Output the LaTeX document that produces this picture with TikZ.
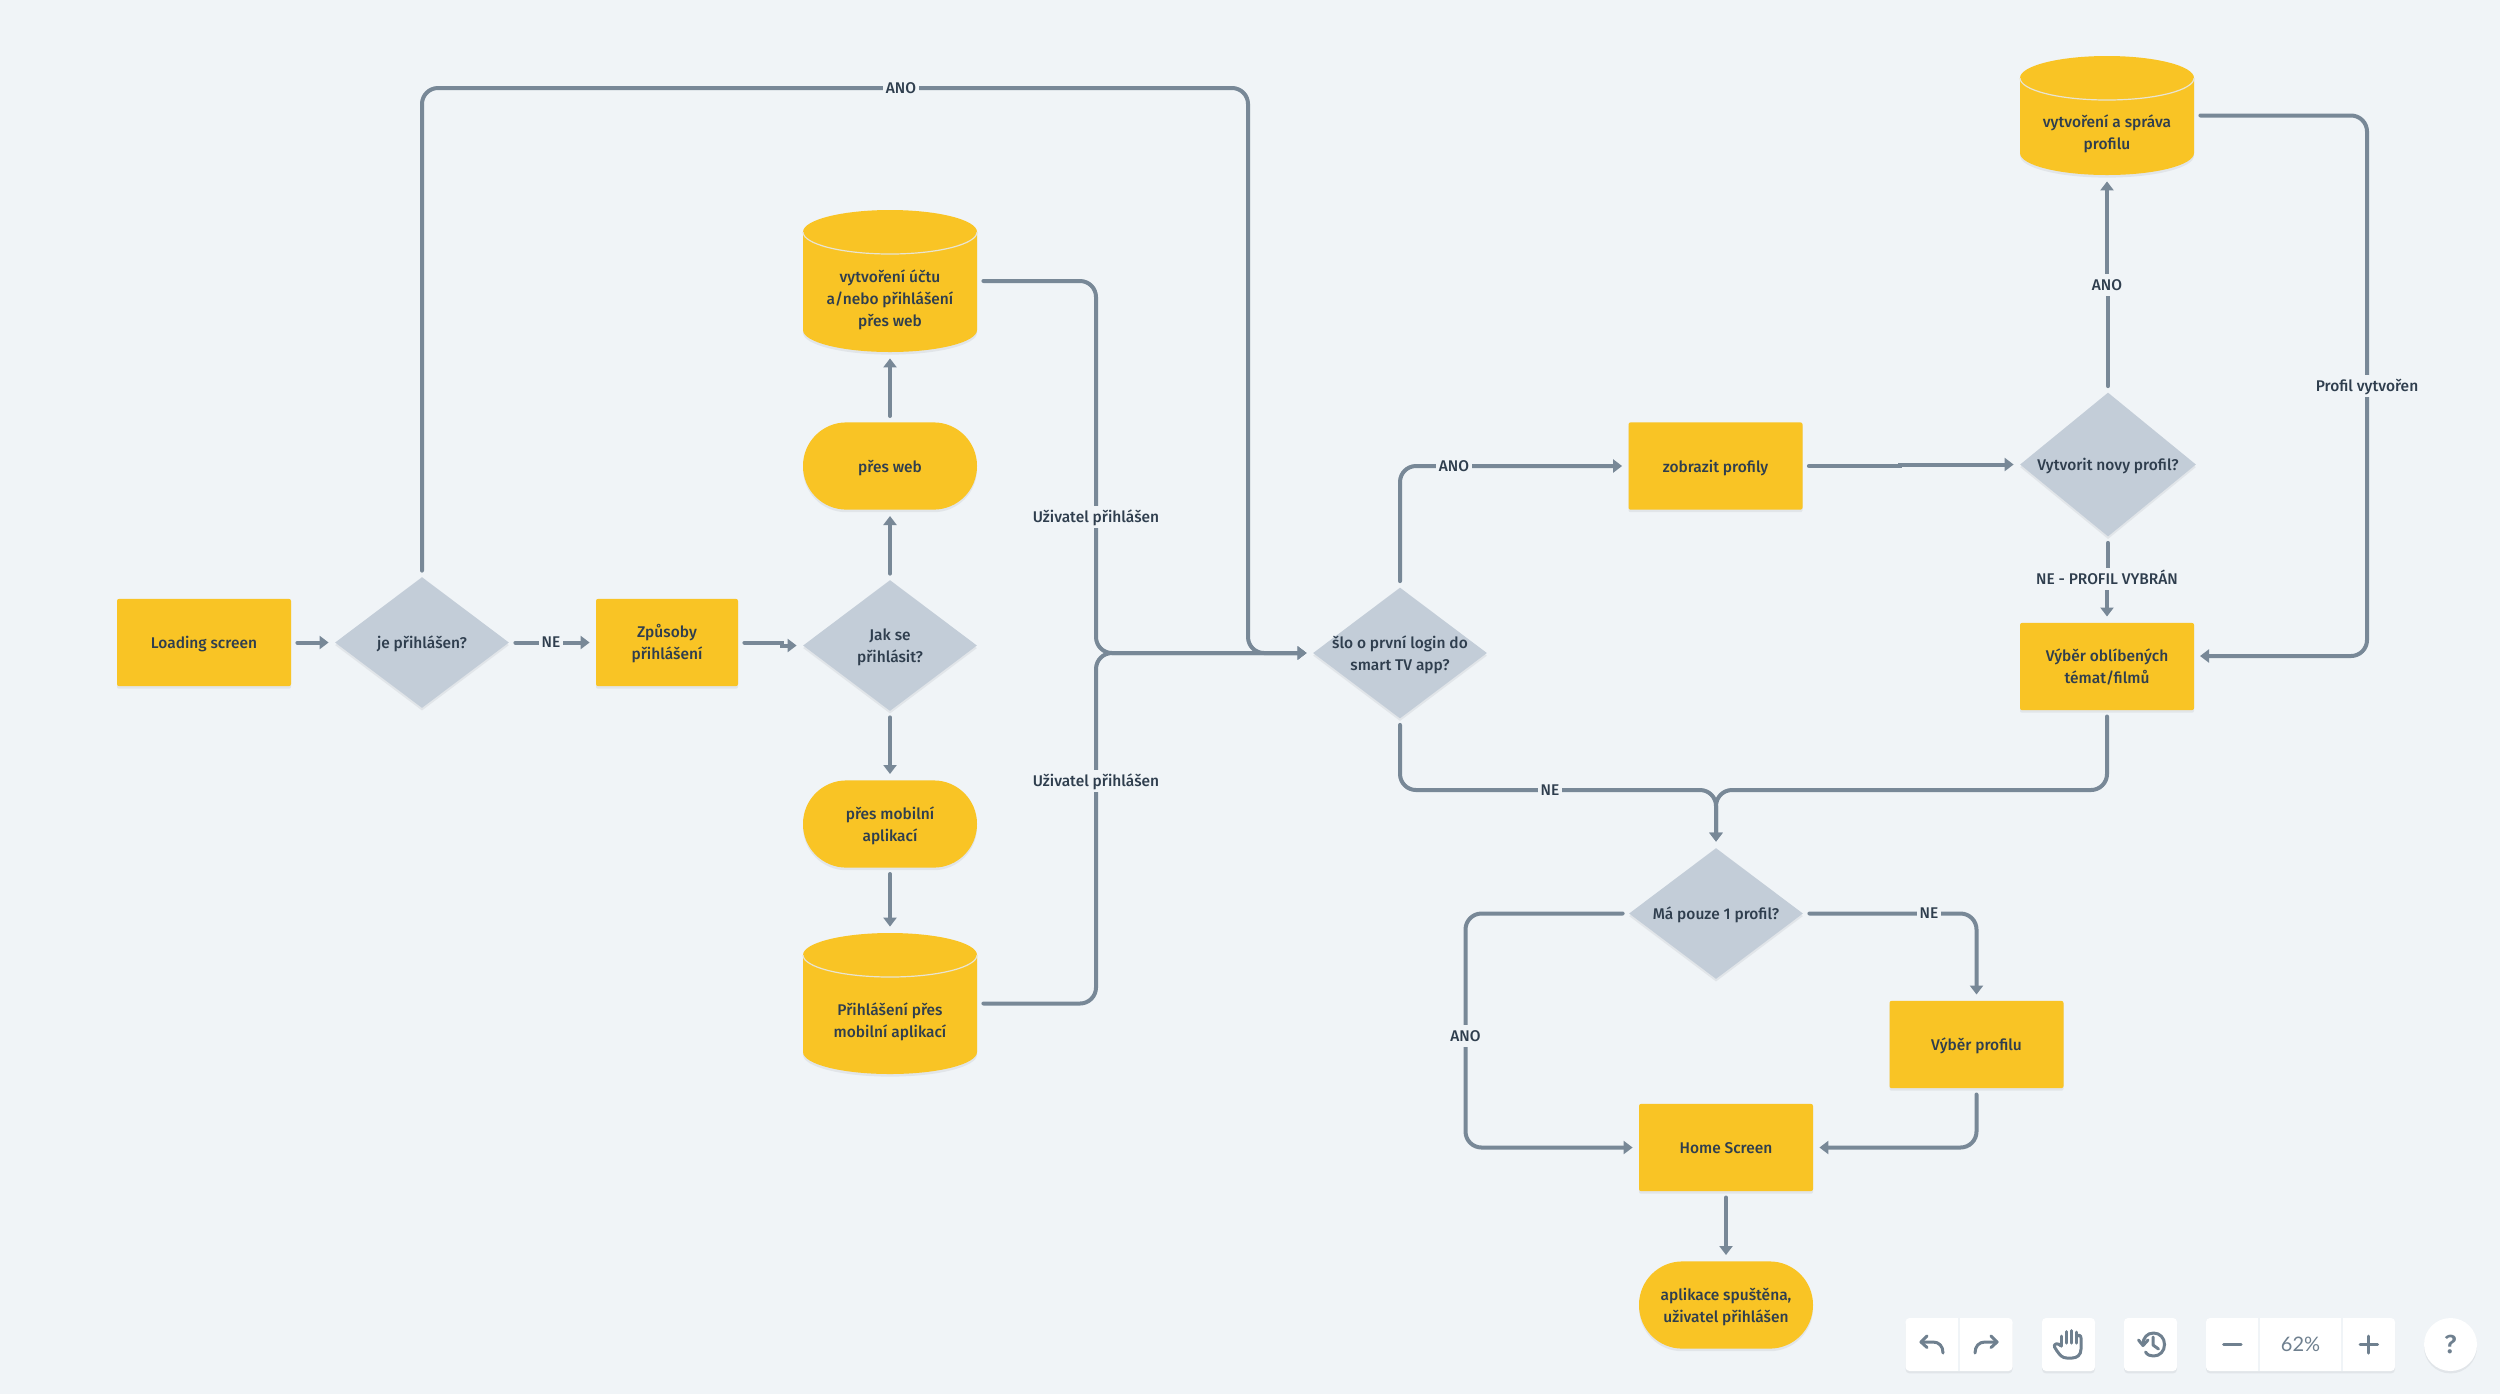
\documentclass[tikz,border=0pt]{standalone}
\usepackage{fontspec}
\usepackage{xcolor}
\setmainfont{Fira Sans Medium}
\newfontfamily\toolfont{Lato}
\usetikzlibrary{shapes.geometric,arrows.meta,shadows}
\definecolor{bgc}{HTML}{F0F4F7}
\definecolor{yelc}{HTML}{F9C425}
\definecolor{diac}{HTML}{C3CDD8}
\definecolor{linec}{HTML}{788897}
\definecolor{txtc}{HTML}{2F3E4E}
\definecolor{shadc}{HTML}{E1E5E9}
\definecolor{rimc}{HTML}{E8E4D2}
\definecolor{icoc}{HTML}{6F808F}
\newcommand{\tx}[2][-2.8pt]{\makebox[0pt][c]{\smash{\raisebox{#1}{\begin{tabular}{@{}c@{}}#2\end{tabular}}}}}
\tikzset{
  softshadow/.style={drop shadow={shadow xshift=0pt,shadow yshift=-1.3pt,fill=shadc,opacity=1}},
  box/.style={rectangle,rounded corners=1pt,fill=yelc,softshadow,inner sep=0pt,minimum width=87pt,minimum height=43.6pt,text=txtc},
  pill/.style={box,rounded corners=21.7pt},
  dia/.style={diamond,fill=diac,softshadow,inner sep=0pt,text=txtc},
  cylbox/.style={rectangle,inner sep=0pt,minimum width=87pt,text=txtc},
  lab/.style={rectangle,fill=bgc,text=txtc,inner xsep=1.5pt,inner ysep=2pt,text height=6.3pt,text depth=1pt},
  conn/.style={draw=linec,line width=2pt,rounded corners=8pt,line cap=round,shorten <=3pt},
  arr/.style={conn,-{Triangle[length=4.5pt,width=6.5pt]},shorten >=3pt},
  tool/.style={rectangle,rounded corners=2pt,fill=white,drop shadow={shadow xshift=0pt,shadow yshift=-1.2pt,fill=shadc,opacity=1},inner sep=0pt,minimum height=26.5pt,text=icoc},
  ico/.style={draw=icoc,line width=1.5pt,line cap=round,line join=round},
  div/.style={draw=bgc,line width=.8pt},
}
\newcommand{\cyl}[5]{%
  \fill[yelc,softshadow] ({#2-87},{#3+22}) arc[start angle=180,end angle=0,x radius=43.5pt,y radius=11pt]
    -- ({#2+87},{#4-22}) arc[start angle=0,end angle=-180,x radius=43.5pt,y radius=11pt] -- cycle;
  \draw[rimc,line width=.6pt] ({#2-87},{#3+22}) arc[start angle=180,end angle=360,x radius=43.5pt,y radius=11pt];
  \node[cylbox,minimum height={(#4-#3)*0.5}] (#1) at ({#2},{(#3+#4)/2}) {\tx[-11.3pt]{#5}};
}
\begin{document}
\begin{tikzpicture}[x=0.5pt,y=-0.5pt,font=\fontsize{7.75}{11}\selectfont]
\useasboundingbox (0,0) rectangle (2500,1394);
\fill[bgc] (0,0) rectangle (2500,1394);

% nodes
\node[box] (load) at (204,642.5) {\tx{Loading screen}};
\node[dia,minimum width=87pt,minimum height=65.5pt,aspect=1.33] (je) at (422,642.5) {\tx{je přihlášen?}};
\node[box,minimum width=71pt] (zp) at (667,642.5) {\tx{Způsoby\\přihlášení}};
\node[dia,minimum width=87pt,minimum height=65.5pt,aspect=1.33] (jak) at (890,645.5) {\tx{Jak se\\přihlásit?}};
\node[pill] (web) at (890,466) {\tx{přes web}};
\cyl{cweb}{890}{210}{352}{vytvoření účtu\\a/nebo přihlášení\\přes web}
\node[pill] (mob) at (890,824) {\tx{přes mobilní\\aplikací}};
\cyl{cmob}{890}{933}{1074}{Přihlášení přes\\mobilní aplikací}
\node[dia,minimum width=87pt,minimum height=65.5pt,aspect=1.32] (slo) at (1400,653) {\tx{šlo o první login do\\smart TV app?}};
\node[box] (zob) at (1715.5,466) {\tx{zobrazit profily}};
\node[dia,minimum width=88pt,minimum height=72pt,aspect=1.22] (vyt) at (2108,464.5) {\tx{Vytvorit novy profil?}};
\cyl{cprof}{2107}{56}{175}{vytvoření a správa\\profilu}
\node[box] (obl) at (2107,666.5) {\tx{Výběr oblíbených\\témat/filmů}};
\node[dia,minimum width=87pt,minimum height=65.5pt,aspect=1.33] (ma) at (1716,913.5) {\tx{Má pouze 1 profil?}};
\node[box] (vp) at (1976.5,1044.5) {\tx{Výběr profilu}};
\node[box] (home) at (1726,1147.5) {\tx{Home Screen}};
\node[pill] (app) at (1726,1305) {\tx{aplikace spuštěna,\\uživatel přihlášen}};

% routing points
\coordinate (tl) at (422,88);
\coordinate (tr) at (1248,88);
\coordinate (m2) at (1248,653);
\coordinate (bus) at (1096,653);
\coordinate (buswt) at (1096,281);
\coordinate (busmb) at (1096,1003.5);
\coordinate (sa) at (1400,466);
\coordinate (sb) at (1400,790);
\coordinate (junc) at (1716,790);
\coordinate (oblb) at (2107,790);
\coordinate (pr1) at (2367,115.5);
\coordinate (pr2) at (2367,656);
\coordinate (oblin) at (2194,656);
\coordinate (ml) at (1465.5,913.5);
\coordinate (mlb) at (1465.5,1147.5);
\coordinate (mr) at (1976.5,913.5);
\coordinate (vb) at (1976.5,1147.5);
\coordinate (j1) at (782,642.5);
\coordinate (j2) at (782,645.5);
\coordinate (z1) at (1900,466);
\coordinate (z2) at (1900,464.5);
\coordinate (a1) at (2108,285);
\coordinate (a2) at (2107,285);
\coordinate (n1) at (2108,579);
\coordinate (n2) at (2107,579);

% connectors
\draw[arr] (load.east) -- (je.west);
\draw[arr] (je.east) -- (zp.west);
\draw[arr,rounded corners=0pt] (zp.east) -- (j1) -- (j2) -- (jak.west);
\draw[arr] (jak.north) -- (web.south);
\draw[arr] (web.north) -- (cweb.south);
\draw[arr] (jak.south) -- (mob.north);
\draw[arr] (mob.south) -- (cmob.north);
\draw[arr] (je.north) -- (tl) -- (tr) -- (m2) -- (slo.west);
\draw[arr] (cweb.east) -- (buswt) -- (bus) -- (slo.west);
\draw[arr] (cmob.east) -- (busmb) -- (bus) -- (slo.west);
\draw[arr] (slo.north) -- (sa) -- (zob.west);
\draw[arr,rounded corners=0pt] (zob.east) -- (z1) -- (z2) -- (vyt.west);
\draw[arr,rounded corners=0pt] (vyt.north) -- (a1) -- (a2) -- (cprof.south);
\draw[arr,rounded corners=0pt] (vyt.south) -- (n1) -- (n2) -- (obl.north);
\draw[arr] (cprof.east) -- (pr1) -- (pr2) -- (oblin);
\draw[arr] (slo.south) -- (sb) -- (junc) -- (ma.north);
\draw[arr] (obl.south) -- (oblb) -- (junc) -- (ma.north);
\draw[arr] (ma.west) -- (ml) -- (mlb) -- (home.west);
\draw[arr] (ma.east) -- (mr) -- (vp.north);
\draw[arr] (vp.south) -- (vb) -- (home.east);
\draw[arr] (home.south) -- (app.north);

% connector labels
\node[lab] (l1) at (901,88) {ANO};
\node[lab] (l2) at (551,642.5) {NE};
\node[lab] (l3) at (1096,517) {Uživatel přihlášen};
\node[lab] (l4) at (1096,781) {Uživatel přihlášen};
\node[lab] (l5) at (1454,466) {ANO};
\node[lab] (l6) at (1550,790) {NE};
\node[lab] (l7) at (2107,285) {ANO};
\node[lab] (l8) at (2107,579) {NE - PROFIL VYBRÁN};
\node[lab] (l9) at (2367,386) {Profil vytvořen};
\node[lab] (l10) at (1929,913.5) {NE};
\node[lab] (l11) at (1465.5,1036) {ANO};

% toolbar
\node[tool,minimum width=53.5pt] (undo) at (1959,1344.5) {};
\draw[div] (undo.north) -- (undo.south);
\node[tool,minimum width=26.5pt] (hand) at (2068.5,1344.5) {};
\node[tool,minimum width=26.5pt] (hist) at (2150.5,1344.5) {};
\node[tool,minimum width=94.5pt] (zoomb) at (2300.5,1344.5) {\toolfont\fontsize{10}{11}\selectfont 62\%};
\coordinate (d1) at (2259,1318);
\coordinate (d2) at (2259,1371);
\coordinate (d3) at (2342,1318);
\coordinate (d4) at (2342,1371);
\draw[div] (d1) -- (d2);
\draw[div] (d3) -- (d4);
\node[tool,circle,minimum size=26.5pt] (help) at (2450.5,1344.5) {\fontsize{13}{13}\selectfont ?};
% undo, redo
\draw[ico] (1927,1336) -- (1921,1342) -- (1927,1347.5);
\draw[ico] (1921,1342) -- (1933,1342) .. controls (1939,1342) and (1943,1346) .. (1943,1353);
\draw[ico] (1991,1336) -- (1997,1342) -- (1991,1347.5);
\draw[ico] (1997,1342) -- (1985,1342) .. controls (1979,1342) and (1975,1346) .. (1975,1353);
% hand
\draw[ico] (2061,1346) -- (2061,1336) (2066.5,1343) -- (2066.5,1331.5) (2071.5,1343) -- (2071.5,1330.5) (2076.5,1343) -- (2076.5,1332);
\draw[ico] (2076.5,1337) .. controls (2078,1334) and (2081,1335) .. (2081,1338) -- (2081,1349) .. controls (2081,1355) and (2077,1358) .. (2072,1358) -- (2067,1358) .. controls (2062,1358) and (2060,1355) .. (2057,1351) -- (2054.5,1347) .. controls (2053,1344) and (2058,1342) .. (2061,1346);
% history
\draw[ico] (2143,1344) .. controls (2143,1338) and (2147,1333) .. (2153.5,1333) .. controls (2160,1333) and (2164.5,1338) .. (2164.5,1344.5) .. controls (2164.5,1351) and (2160,1356) .. (2153.5,1356) .. controls (2150,1356) and (2147.5,1355) .. (2145.5,1352);
\draw[ico] (2138.5,1340) -- (2143,1345.5) -- (2148,1340);
\draw[ico] (2153,1337) -- (2153,1345) -- (2158.5,1349);
% zoom symbols
\draw[ico] (2223.5,1344.5) -- (2241,1344.5);
\draw[ico] (2360,1344.5) -- (2377.5,1344.5) (2368.7,1336) -- (2368.7,1353);
\end{tikzpicture}
\end{document}
